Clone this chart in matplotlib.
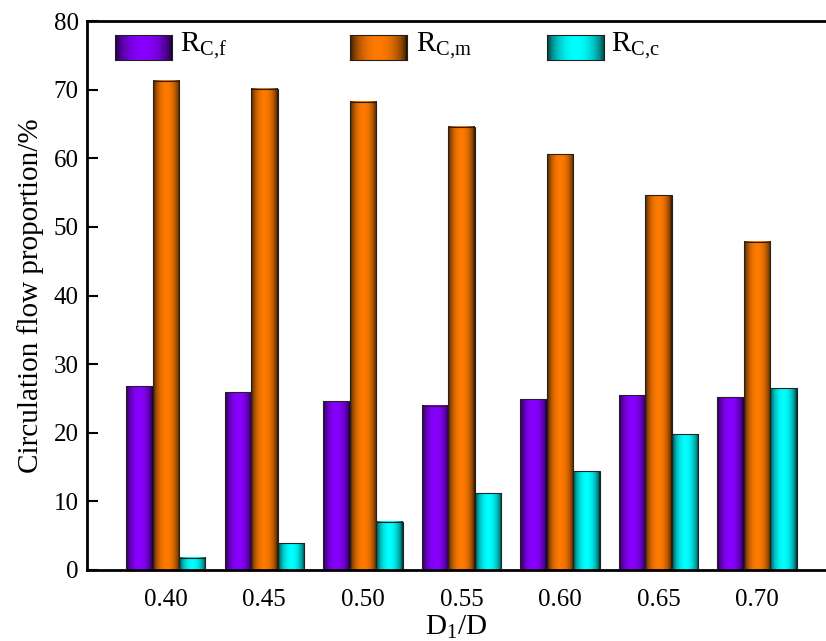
import numpy as np
import matplotlib
matplotlib.use('Agg')
import matplotlib.pyplot as plt
from matplotlib.colors import to_rgb
from matplotlib.patches import Rectangle

categories = ['0.40', '0.45', '0.50', '0.55', '0.60', '0.65', '0.70']
rcf = [26.8, 25.9, 24.6, 23.9, 24.9, 25.5, 25.2]
rcm = [71.3, 70.1, 68.2, 64.6, 60.6, 54.6, 47.8]
rcc = [1.75, 3.9, 7.0, 11.2, 14.4, 19.8, 26.5]
series = [rcf, rcm, rcc]
labels = [r'R$_{\mathrm{C{,}f}}$', r'R$_{\mathrm{C{,}m}}$', r'R$_{\mathrm{C{,}c}}$']
colors = ['#8800ff', '#ff7a00', '#00ffff']

plt.rcParams['font.family'] = ['Liberation Serif', 'DejaVu Serif']
plt.rcParams['mathtext.fontset'] = 'custom'
plt.rcParams['mathtext.rm'] = 'Liberation Serif'
plt.rcParams['mathtext.it'] = 'Liberation Serif:italic'


def grad_img(color, n=64):
    t = np.linspace(0, 1, n)
    f = np.sin(np.pi * t) ** 0.55
    c = np.array(to_rgb(color))
    k = 0.12 + 0.88 * f
    img = k[:, None] * c[None, :]
    return img[None, :, :]


W, H = 826, 641
fig = plt.figure(figsize=(W / 100, H / 100), dpi=100)
ax = fig.add_axes([87 / W, 1 - 570 / H, 1 - 87 / W, (570 - 21) / H])

w = 0.268
x = np.arange(len(categories))
for j, vals in enumerate(series):
    img = grad_img(colors[j])
    for i, v in enumerate(vals):
        xc = x[i] + (j - 1) * w
        ax.imshow(img, extent=[xc - w / 2, xc + w / 2, 0, v], aspect='auto',
                  interpolation='bilinear', zorder=2)
        ax.add_patch(Rectangle((xc - w / 2, 0), w, v, fill=False,
                               ec='#222222', lw=0.8, zorder=3))

ax.set_xlim(-0.80, 6.70)
ax.set_ylim(0, 80)
ax.set_xticks(x)
ax.set_xticklabels(categories)
ax.set_yticks(np.arange(0, 81, 10))
ax.tick_params(axis='y', direction='in', length=8, width=1.5, labelsize=18, pad=6)
ax.tick_params(axis='x', length=0, labelsize=18, pad=14)
for s in ['left', 'top', 'bottom']:
    ax.spines[s].set_linewidth(2)
ax.spines['right'].set_visible(False)

ax.set_ylabel('Circulation flow proportion/%', fontsize=21)
ax.yaxis.set_label_coords(-0.058, 0.5)
ax.set_xlabel(r'D$_{\mathrm{1}}$/D', fontsize=21, labelpad=2)

# legend (manual, gradient swatches)
sw_x = [115, 350, 547]
tx_x = [180, 416, 611]
for j in range(3):
    lax = fig.add_axes([sw_x[j] / W, 1 - 60 / H, 57 / W, 25 / H])
    lax.imshow(grad_img(colors[j]), aspect='auto', interpolation='bilinear')
    lax.set_xticks([])
    lax.set_yticks([])
    for s in lax.spines.values():
        s.set_linewidth(0.8)
        s.set_color('#222222')
    fig.text(tx_x[j] / W, 1 - 46 / H, labels[j], fontsize=21, va='center', ha='left')

fig.savefig('out.png', dpi=100)
